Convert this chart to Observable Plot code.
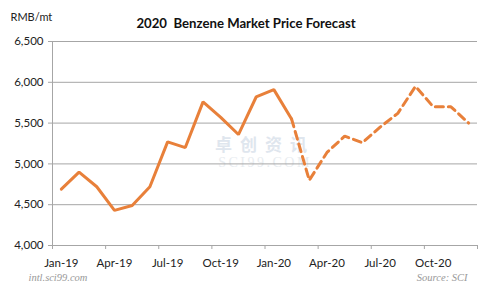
<!DOCTYPE html>
<html>
<head>
<meta charset="utf-8">
<script src="https://cdn.jsdelivr.net/npm/d3@7"></script>
<script src="https://cdn.jsdelivr.net/npm/@observablehq/plot@0.6"></script>
<style>
  html, body { margin: 0; padding: 0; background: #fff; }
  svg { display: block; }
</style>
</head>
<body>
<div id="chart"></div>
<script>
const months = ["Jan-19","Feb-19","Mar-19","Apr-19","May-19","Jun-19","Jul-19","Aug-19","Sep-19","Oct-19","Nov-19","Dec-19",
                "Jan-20","Feb-20","Mar-20","Apr-20","May-20","Jun-20","Jul-20","Aug-20","Sep-20","Oct-20","Nov-20","Dec-20"];
// actual prices Jan-19 .. Feb-20
const actualValues = [4690, 4900, 4720, 4430, 4490, 4720, 5270, 5200, 5760, 5570, 5360, 5820, 5910, 5550];
// forecast Feb-20 .. Dec-20
const forecastValues = [5550, 4800, 5140, 5340, 5260, 5450, 5620, 5950, 5700, 5700, 5500];
const forecastStart = 13;
const labelMonths = ["Jan-19","Apr-19","Jul-19","Oct-19","Jan-20","Apr-20","Jul-20","Oct-20"];
const yTicks = [4000, 4500, 5000, 5500, 6000, 6500];
const titleText = "2020  Benzene Market Price Forecast";
const unitText = "RMB/mt";
const siteText = "intl.sci99.com";
const sourceText = "Source: SCI";
const watermarkCn = "卓创资讯";
const watermarkEn = "SCI99.COM";

const actual = actualValues.map((v, i) => ({i, v}));
const forecast = forecastValues.map((v, k) => ({i: forecastStart + k, v}));
const labelIdx = labelMonths.map(m => months.indexOf(m));
const boundaries = d3.range(0, months.length + 1, 3).map(b => b - 0.5);

const orange = "#E8803A";
const grid = "#a6a6a6";
const font = "Lato, 'Open Sans', sans-serif";

const chart = Plot.plot({
  width: 491,
  height: 302,
  marginLeft: 52,
  marginRight: 14,
  marginTop: 41,
  marginBottom: 57,
  style: {fontFamily: font, fontSize: "11.5px", color: "#222", background: "#fff"},
  x: {domain: [-0.5, months.length - 0.5]},
  y: {domain: [4000, 6500]},
  marks: [
    // watermark
    Plot.text([watermarkCn], {frameAnchor: "middle", dx: 0, dy: 2, fontSize: 17, fill: "#dfe6ee", fontFamily: "'Noto Sans CJK SC', sans-serif", fontWeight: "bold"}),
    Plot.text([watermarkEn], {frameAnchor: "middle", dx: 0, dy: 19, fontSize: 14, fill: "#e8ecf0", fontFamily: "'Liberation Serif', serif"}),
    Plot.gridY(yTicks.filter(t => t > 4000), {stroke: grid, strokeOpacity: 1, strokeWidth: 1}),
    Plot.axisY({ticks: yTicks, tickFormat: d3.format(","), tickSize: 4, tickPadding: 5, stroke: grid, label: null, fontSize: 11.5}),
    Plot.ruleX([-0.5], {stroke: grid}),
    Plot.ruleY([4000], {stroke: grid}),
    Plot.axisX({ticks: boundaries, tickFormat: () => "", tickSize: 4, stroke: grid, label: null}),
    Plot.axisX({ticks: labelIdx, tickFormat: i => months[i], tickSize: 0, tickPadding: 13, label: null, fontSize: 11.5}),
    Plot.line(actual, {x: "i", y: "v", stroke: orange, strokeWidth: 3, strokeLinejoin: "miter"}),
    Plot.line(forecast, {x: "i", y: "v", stroke: orange, strokeWidth: 3, strokeDasharray: "8,5", strokeLinejoin: "miter"}),
    // titles
    Plot.text([titleText], {frameAnchor: "top", dx: -19, dy: -23, fontWeight: "bold", fontSize: 13.2, fill: "#111"}),
    Plot.text([unitText], {frameAnchor: "top-left", dx: -42, dy: -28, textAnchor: "start", fontSize: 11, fill: "#222"}),
    Plot.text([siteText], {frameAnchor: "bottom-left", dx: -24, dy: 35, textAnchor: "start", fontSize: 10.5, fontStyle: "italic", fill: "#999", fontFamily: "'Liberation Serif', serif"}),
    Plot.text([sourceText], {frameAnchor: "bottom-right", dx: -10, dy: 35, textAnchor: "end", fontSize: 10.5, fontStyle: "italic", fill: "#999", fontFamily: "'Liberation Serif', serif"})
  ]
});
// widen the watermark letters like the reference
d3.select(chart).selectAll("text").each(function() {
  const t = d3.select(this);
  if (t.text() === watermarkCn) t.attr("letter-spacing", 8);
  if (t.text() === watermarkEn) t.attr("letter-spacing", 2.5);
});
document.getElementById("chart").appendChild(chart);
</script>
</body>
</html>
